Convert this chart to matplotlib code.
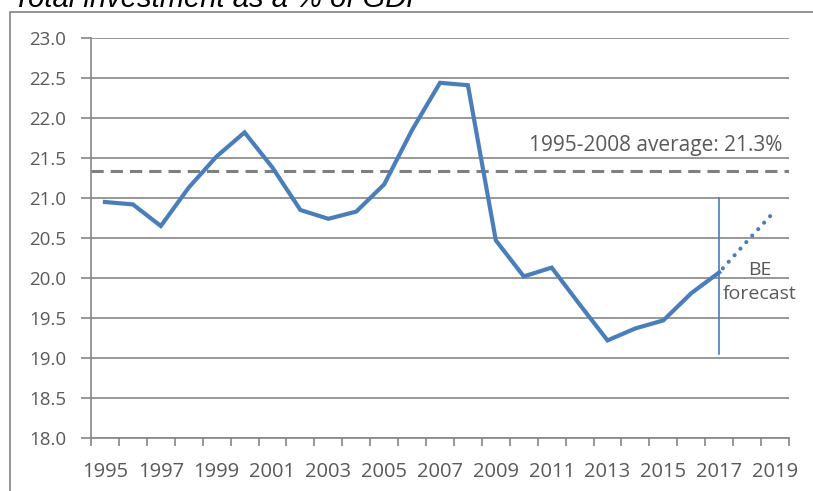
import matplotlib.pyplot as plt
from matplotlib.patches import Rectangle
from matplotlib.ticker import MultipleLocator

years = list(range(1995, 2018))
investment = [20.95, 20.92, 20.65, 21.13, 21.52, 21.82, 21.38, 20.85, 20.74, 20.83,
              21.17, 21.85, 22.44, 22.41, 20.47, 20.02, 20.13, 19.67, 19.22, 19.37,
              19.47, 19.81, 20.07]
forecast_years = [2017, 2018, 2019]
forecast = [20.07, 20.46, 20.84]
average = 21.34
label_years = list(range(1995, 2020, 2))

blue = '#4a7ebb'
grey = '#868686'
text_grey = '#595959'

plt.rcParams['font.family'] = ['Open Sans', 'DejaVu Sans']

fig = plt.figure(figsize=(8.13, 4.91), dpi=100)
ax = fig.add_axes([91/813, 1 - 438/491, (789 - 91)/813, 400/491])

# outer chart frame, runs off the right and bottom edges
fig.patches.append(Rectangle((10/813, -0.1), 1.2, 1.1 - 12/491, transform=fig.transFigure,
                             fill=False, edgecolor='#8c8c8c', linewidth=1.3))
fig.text(13/813, 1 - 7/491, 'Total investment as a % of GDP', fontsize=21, style='italic',
         family='Liberation Sans', color='black', va='baseline', ha='left')

ax.set_xlim(1994.5, 2019.5)
ax.set_ylim(18.0, 23.0)
ax.yaxis.set_major_locator(MultipleLocator(0.5))
ax.yaxis.set_major_formatter(plt.FormatStrFormatter('%.1f'))
ax.grid(axis='y', color=grey, linewidth=1.2)
ax.set_axisbelow(True)

ax.set_xticks(label_years)
ax.set_xticks([y - 0.5 for y in range(1995, 2021)], minor=True)
ax.tick_params(axis='x', which='major', length=0, pad=17, labelsize=14.5, labelcolor=text_grey)
ax.tick_params(axis='x', which='minor', length=6, width=1.2, color=grey)
ax.tick_params(axis='y', length=7, width=1.2, color=grey, pad=11, labelsize=13.5, labelcolor=text_grey)

for side in ['top', 'right']:
    ax.spines[side].set_visible(False)
for side in ['left', 'bottom']:
    ax.spines[side].set_color(grey)
    ax.spines[side].set_linewidth(1.2)

ax.axhline(average, color='#7f7f7f', linewidth=2.2, linestyle=(0, (4, 2.3)))
ax.text(2019.25, 21.59, '1995-2008 average: 21.3%', fontsize=15, color=text_grey,
        ha='right', va='baseline')

ax.plot(years, investment, color=blue, linewidth=3, solid_joinstyle='miter')
ax.plot(forecast_years, forecast, color=blue, linewidth=3, linestyle=(0.8, (0.01, 2.1)),
        dash_capstyle='round')
ax.plot([2017, 2017], [19.05, 21.0], color=blue, linewidth=1.2)
ax.text(2018.45, 19.74, 'BE\nforecast', fontsize=14, color=text_grey, ha='center',
        va='baseline', linespacing=1.45)

fig.savefig('out.png', dpi=100)
